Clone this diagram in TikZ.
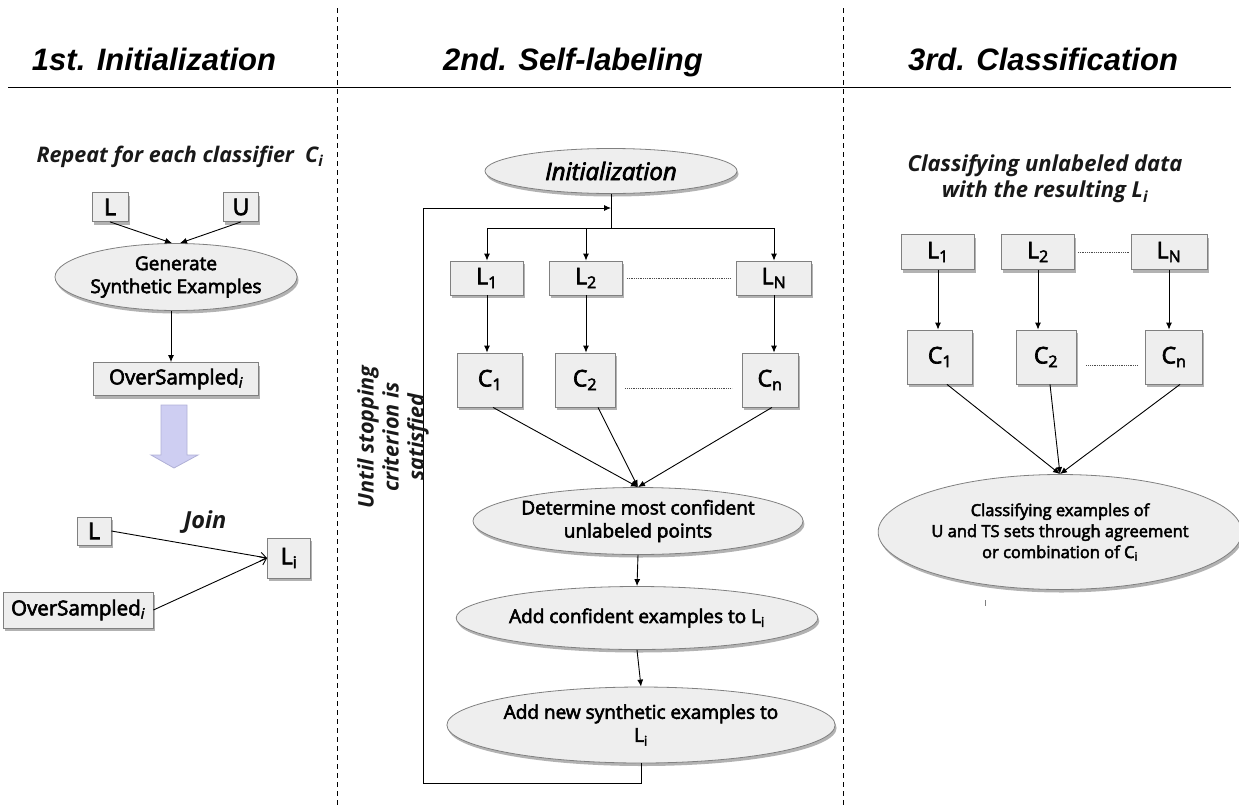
\documentclass[tikz,border=0pt]{standalone}
\usepackage{fontspec}
\setmainfont{Open Sans}
\newfontfamily\medfont{Open Sans}[FakeBold=3]
\newfontfamily\headfont{Liberation Sans}
\usetikzlibrary{positioning,shapes.geometric,shadows,arrows.meta}

\definecolor{boxfill}{RGB}{238,238,238}
\definecolor{boxline}{RGB}{128,128,128}
\definecolor{arrfill}{RGB}{206,206,242}
\definecolor{arrline}{RGB}{176,176,214}

\begin{document}
\begin{tikzpicture}
    [x=1pt, y=-1pt,
    shade/.style={drop shadow={shadow xshift=1.5pt, shadow yshift=-3pt, fill=black!60, opacity=0.5}},
    blk/.style={draw=boxline, fill=boxfill, line width=0.8pt, inner sep=0pt, shade,
        font=\medfont\fontsize{23}{26}\selectfont},
    oval/.style={ellipse, draw=boxline, fill=boxfill, line width=0.8pt, inner sep=0pt, shade,
        align=center, font=\medfont\fontsize{19}{23}\selectfont},
    capt/.style={align=center, text=black!90, font=\fontsize{21.5}{25}\selectfont\bfseries\itshape},
    head/.style={anchor=base, font=\headfont\fontsize{31}{34}\selectfont\bfseries\itshape},
    conn/.style={-{Latex[length=7pt,width=6pt]}, line width=0.9pt},
    joinarr/.style={-{Straight Barb[length=6pt,width=9pt]}, line width=0.9pt},
    dotline/.style={densely dotted, line width=0.8pt, black!70},
    divider/.style={dash pattern=on 5pt off 4pt, line width=0.8pt}]

    \useasboundingbox (0,0) rectangle (1239,806);

    % headings and column dividers
    \node[head] (h1) at (154,70) {1st. Initialization};
    \node[head] (h2) at (573,70) {2nd. Self-labeling};
    \node[head] (h3) at (1043,70) {3rd. Classification};
    \draw[line width=0.9pt] (8,87) -- (1231,87);
    \draw[divider] (337,8) -- (337,806);
    \draw[divider] (843,8) -- (843,806);

    % 1st. Initialization
    \node[capt] (rep) at (180,157) {Repeat for each classifier\ \ C\textsubscript{i}};
    \node[blk, minimum width=36pt, minimum height=29pt] (l0) at (110,207) {L};
    \node[blk, minimum width=35pt, minimum height=29pt] (u0) at (241,207) {U};
    \node[oval, minimum width=217pt, minimum height=67pt] (gen) at (176,277) {Generate\\Synthetic Examples};
    \draw[conn] (l0.south) -- ([xshift=-4pt]gen.north);
    \draw[conn] (u0.south) -- ([xshift=4pt]gen.north);
    \node[blk, minimum width=165pt, minimum height=33pt, font=\medfont\fontsize{20.5}{24}\selectfont] (os1) at (176,379) {OverSampled\textsubscript{\itshape i}};
    \draw[conn] ([xshift=-5pt]gen.south) -- ([xshift=-5pt]os1.north);
    \draw[draw=arrline, fill=arrfill, line width=0.8pt] (161,405) -- (187,405) -- (187,455) -- (198,455)
        -- (174,468) -- (151,455) -- (161,455) -- cycle;

    \node[blk, minimum width=34pt, minimum height=28pt] (l1) at (94,531) {L};
    \node[blk, minimum width=43pt, minimum height=40pt] (li) at (289,558) {L\textsubscript{i}};
    \node[blk, minimum width=150pt, minimum height=36pt, font=\medfont\fontsize{20.5}{24}\selectfont] (os2) at (78,610) {OverSampled\textsubscript{\itshape i}};
    \node[capt, font=\fontsize{23.5}{26}\selectfont\bfseries\itshape] (join) at (205,522) {Join};
    \draw[joinarr] (l1.east) -- (li.west);
    \draw[joinarr] (os2.east) -- (li.west);

    % 2nd. Self-labeling
    \node[oval, minimum width=252pt, minimum height=45pt, font=\medfont\fontsize{24}{26}\selectfont\itshape] (init) at (611,171) {Initialization};
    \coordinate (fork) at (611,228);
    \coordinate (back) at (611,208);
    \node[blk, minimum width=73pt, minimum height=34pt] (l21) at (487,278) {L\textsubscript{1}};
    \node[blk, minimum width=73pt, minimum height=34pt] (l22) at (586,278) {L\textsubscript{2}};
    \node[blk, minimum width=75pt, minimum height=34pt] (l2n) at (774,278) {L\textsubscript{N}};
    \draw[line width=0.9pt] (init.south) -- (fork);
    \draw[line width=0.9pt] (l21.north |- fork) -- (l2n.north |- fork);
    \foreach \n in {l21,l22,l2n}
        \draw[conn] (\n.north |- fork) -- (\n.north);
    \draw[dotline] ([xshift=4pt]l22.east) -- ([xshift=-5pt]l2n.west);

    \node[blk, minimum width=65pt, minimum height=54pt] (c21) at (490,380) {C\textsubscript{1}};
    \node[blk, minimum width=60pt, minimum height=54pt] (c22) at (585,380) {C\textsubscript{2}};
    \node[blk, minimum width=56pt, minimum height=54pt] (c2n) at (770,380) {C\textsubscript{n}};
    \draw[conn] (l21) -- (l21 |- c21.north);
    \draw[conn] (l22) -- (l22 |- c22.north);
    \draw[conn] (l2n) -- (l2n |- c2n.north);
    \draw[dotline] ([xshift=10pt,yshift=-8pt]c22.east) -- ([xshift=-10pt,yshift=-8pt]c2n.west);

    \node[oval, minimum width=267pt, minimum height=67pt] (det) at (638,521) {Determine most confident\\unlabeled points};
    \draw[conn] ([xshift=3pt]c21.south) -- (det.north);
    \draw[conn] ([xshift=13pt]c22.south) -- (det.north);
    \draw[conn] ([xshift=2pt]c2n.south) -- (det.north);
    \node[oval, minimum width=270pt, minimum height=63pt] (addc) at (637,618) {Add confident examples to L\textsubscript{i}};
    \node[oval, minimum width=314pt, minimum height=76pt] (addn) at (641,725) {Add new synthetic examples to\\L\textsubscript{i}};
    \draw[conn] (det.south) -- (addc.north);
    \draw[conn] (addc.south) -- (addn.north);
    \coordinate (loop) at (423,783);
    \draw[conn] (addn.south) |- (loop) |- (back);
    \node[capt, rotate=90] (until) at (393,437) {Until stopping\\criterion is\\satisfied};

    % 3rd. Classification
    \node[capt, font=\fontsize{22}{26}\selectfont\bfseries\itshape] (cls) at (1045,179) {Classifying unlabeled data\\with the resulting L\textsubscript{i}};
    \node[blk, minimum width=73pt, minimum height=35pt] (l31) at (938,252) {L\textsubscript{1}};
    \node[blk, minimum width=73pt, minimum height=35pt] (l32) at (1038,252) {L\textsubscript{2}};
    \node[blk, minimum width=76pt, minimum height=35pt] (l3n) at (1169,252) {L\textsubscript{N}};
    \draw[dotline] ([xshift=3pt]l32.east) -- ([xshift=-1pt]l3n.west);
    \node[blk, minimum width=65pt, minimum height=54pt] (c31) at (940,357) {C\textsubscript{1}};
    \node[blk, minimum width=60pt, minimum height=54pt] (c32) at (1046,357) {C\textsubscript{2}};
    \node[blk, minimum width=57pt, minimum height=54pt] (c3n) at (1174,357) {C\textsubscript{n}};
    \draw[dotline] ([xshift=10pt,yshift=-8pt]c32.east) -- ([xshift=-8pt,yshift=-8pt]c3n.west);
    \draw[conn] (l31) -- (l31 |- c31.north);
    \draw[conn] (l32) -- (l32 |- c32.north);
    \draw[conn] (l3n) -- (l3n |- c3n.north);

    \node[oval, minimum width=295pt, minimum height=115pt, font=\medfont\fontsize{16.5}{21}\selectfont] (fin) at (1060,532)
        {Classifying examples of\\U and TS sets through agreement\\or combination of C\textsubscript{i}};
    \draw[conn] ([xshift=7pt]c31.south) -- (fin.north);
    \draw[conn] ([xshift=4pt]c32.south) -- (fin.north);
    \draw[conn] ([xshift=6pt]c3n.south) -- (fin.north);
    \draw[black!50, line width=0.8pt] (985,600) -- (985,606);
\end{tikzpicture}
\end{document}
